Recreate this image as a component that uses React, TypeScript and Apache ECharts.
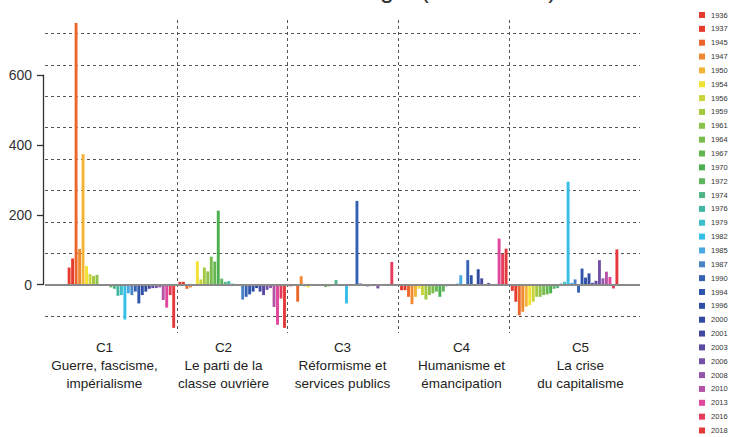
import React, { useEffect, useRef } from "react";
import * as echarts from "echarts";

const years = ["1936","1937","1945","1947","1950","1954","1956","1959","1961","1964","1967","1970","1972","1974","1976","1979","1982","1985","1987","1990","1994","1996","2000","2001","2003","2006","2008","2010","2013","2016","2018"];
const yearColors = ["#e8392f","#e63a2c","#ec652b","#f08a30","#f5b335","#f2e131","#c8d43a","#a3c940","#8cc24b","#78bc4e","#64b650","#4daf4f","#5fb45e","#4fb585","#41b6a2","#3cbfc8","#34bfe9","#4aa9e2","#4b84c6","#3561b3","#2f55ac","#2e4ea6","#2f4a9f","#4448a0","#5a4aa3","#7550a8","#9257ac","#b553a5","#e0469b","#e63c5c","#e5383b"];
const categories = ["C1", "C2", "C3", "C4", "C5"];
const categoryLabels = [
  "C1\nGuerre, fascisme,\nimpérialisme",
  "C2\nLe parti de la\nclasse ouvrière",
  "C3\nRéformisme et\nservices publics",
  "C4\nHumanisme et\némancipation",
  "C5\nLa crise\ndu capitalisme",
];
const c1 = [49, 75, 750, 102, 374, 53, 30, 25, 28, 0, 0, -3, -8, -12, -32, -30, -100, -25, -30, -20, -54, -30, -20, -12, -10, -10, -8, -44, -66, -30, -124];
const c2 = [8, 8, -12, -8, 0, 67, 15, 49, 38, 80, 66, 212, 17, 8, 10, 3, 0, -2, -43, -35, -28, -20, -10, -20, -30, -15, -10, -64, -115, -40, -124];
const c3 = [-5, -4, -49, 24, -5, -8, 0, 0, 0, 0, -7, -5, 0, 13, 0, 0, -54, 0, 0, 240, 3, -3, -5, 0, 0, -11, 0, 2, 2, 65, 0];
const c4 = [-16, -16, -35, -56, -35, -12, -30, -43, -30, -25, -20, -35, -20, -5, 0, 0, 3, 27, 0, 70, 27, 0, 44, 18, 0, 5, 0, 0, 132, 88, 103];
const c5 = [-18, -49, -88, -78, -63, -59, -49, -35, -35, -30, -28, -25, -12, -10, 3, 8, 295, 5, 15, -23, 46, 20, 32, 5, 11, 70, 18, 37, 22, -11, 101];
const yTicks = [0, 200, 400, 600];

const groups = [c1, c2, c3, c4, c5];
const NARROW = "'Liberation Sans Narrow', 'Arial Narrow', 'Liberation Sans', Arial, sans-serif";
const SANS = "'Liberation Sans', Arial, sans-serif";

export default function App() {
  const ref = useRef<HTMLDivElement>(null);
  useEffect(() => {
    if (!ref.current) return;
    const chart = echarts.init(ref.current, null, { renderer: "svg" });
    const barSeries = years.map((y, i) => ({
      type: "bar",
      name: y,
      xAxisIndex: 0,
      yAxisIndex: 0,
      data: groups.map((g) => g[i]),
      itemStyle: { color: yearColors[i] },
      barGap: "20%",
      barCategoryGap: "3%",
      silent: true,
    }));
    const option: any = {
      animation: false,
      backgroundColor: "#ffffff",
      graphic: [
        {
          type: "text",
          left: 312,
          top: -24,
          style: { text: "Idéologie (1936-2018)", fontSize: 25, fontFamily: SANS, fill: "#333" },
        },
      ],
      legend: {
        data: years,
        orient: "vertical",
        left: 699,
        top: 11,
        padding: 0,
        itemWidth: 6,
        itemHeight: 6,
        itemGap: 5.85,
        icon: "rect",
        selectedMode: false,
        textStyle: { fontSize: 7.5, fontFamily: NARROW, color: "#333", padding: [0, 0, 0, 1] },
      },
      grid: [
        { left: 66, right: 116, top: 20, bottom: 104 },
        { left: 45, right: 96, top: 33.4, bottom: 121 },
        { left: 43, width: 1, top: 75.2, height: 209.4 },
      ],
      xAxis: [
        {
          gridIndex: 0,
          type: "category",
          data: categories,
          axisLine: { show: false },
          axisTick: { show: false },
          axisLabel: { show: false },
          splitLine: {
            show: true,
            showMinLine: false,
            showMaxLine: false,
            lineStyle: { color: "#555", type: [3, 3], width: 1 },
          },
        },
        {
          gridIndex: 1,
          type: "category",
          data: categoryLabels,
          axisLine: { show: false, onZero: false },
          axisTick: { show: false },
          splitLine: { show: false },
          axisLabel: {
            margin: 22,
            fontSize: 13.5,
            lineHeight: 18,
            color: "#222",
            fontFamily: NARROW,
            interval: 0,
          },
        },
        { gridIndex: 2, type: "value", show: false },
      ],
      yAxis: [
        { gridIndex: 0, type: "value", min: -138.7, max: 758.4, show: false },
        {
          gridIndex: 1,
          type: "value",
          min: -90,
          max: 720,
          interval: 90,
          axisLine: { show: false },
          axisTick: { show: false },
          axisLabel: { show: false },
          splitLine: { show: true, lineStyle: { color: "#555", type: [3, 3], width: 1 } },
        },
        {
          gridIndex: 2,
          type: "value",
          min: yTicks[0],
          max: yTicks[yTicks.length - 1],
          interval: 200,
          axisLine: { show: true, lineStyle: { color: "#333", width: 1.3 } },
          axisTick: { show: true, length: 6, lineStyle: { color: "#333", width: 1.3 } },
          axisLabel: { fontSize: 14, color: "#333", margin: 11, fontFamily: SANS },
          splitLine: { show: false },
        },
      ],
      series: [
        ...barSeries,
        {
          type: "line",
          name: "baseline",
          xAxisIndex: 1,
          yAxisIndex: 1,
          data: [],
          silent: true,
          markLine: {
            silent: true,
            symbol: "none",
            label: { show: false },
            lineStyle: { color: "#8a8a8a", type: "solid", width: 2 },
            data: [{ yAxis: 0 }],
          },
        },
      ],
    };
    chart.setOption(option);
    return () => chart.dispose();
  }, []);
  return (
    <div
      ref={ref}
      style={{ position: "fixed", left: 0, top: 0, width: 736, height: 437, background: "#fff" }}
    />
  );
}
